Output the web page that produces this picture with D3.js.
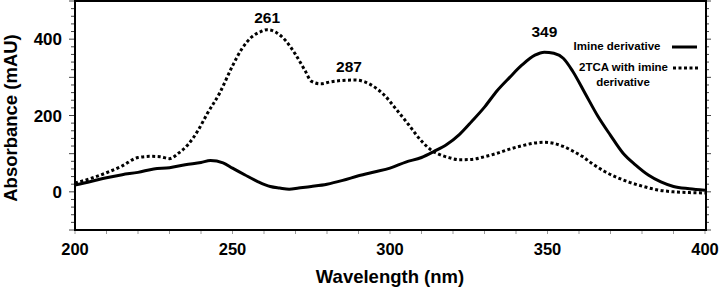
<!DOCTYPE html>
<html lang="en">
<head>
<meta charset="utf-8">
<script src="https://d3js.org/d3.v7.min.js"></script>
<style>
  body { margin: 0; background: #fff; }
  text { font-family: "Liberation Sans", Arial, sans-serif; font-weight: bold; fill: #000; }
</style>
</head>
<body>
<script>
// Imine derivative (solid)
const imineWl = [200,205,210,215,220,225,230,235,240,243,247,250,254,258,262,265,268,271,275,280,285,290,295,300,305,310,314,318,322,326,330,334,338,342,346,349,352,355,358,362,366,370,374,378,382,386,390,395,400];
const imineAbs = [18,27,37,45,51,60,63,71,77,82,76,62,44,27,14,10,7,10,14,20,30,42,52,62,78,90,106,124,150,185,222,265,300,333,358,366,363,350,316,257,198,148,101,70,44,26,14,8,4];

// 2TCA with imine derivative (dotted)
const tcaWl = [200,205,210,215,220,224,227,230,233,236,239,242,246,250,253,256,259,261,264,267,270,273,275,278,281,285,289,292,295,298,302,306,310,313,316,319,322,326,330,334,338,342,346,349,352,355,358,361,364,368,372,376,380,385,390,395,400];
const tcaAbs = [23,35,50,68,90,93,92,87,102,125,160,205,260,330,375,405,420,425,417,395,360,318,290,283,288,292,293,288,275,255,216,175,133,110,97,89,84,85,92,101,112,121,128,130,127,119,107,93,75,54,38,25,15,5,0,-2,-3];

const xTicks = [200, 250, 300, 350, 400];
const yTicks = [0, 200, 400];
const peakLabels = [{wl: 261, v: 425, dy: -7}, {wl: 287, v: 293, dy: -8}, {wl: 349, v: 366, dy: -15}];

const W = 719, H = 291;
const svg = d3.select("body").append("svg").attr("width", W).attr("height", H);

const x = d3.scaleLinear().domain([200, 400]).range([75, 705]);
const y = d3.scaleLinear().domain([-100, 500]).range([230, 1]);

// minor ticks
svg.append("g").selectAll("line").data(d3.range(-100, 501, 20)).enter().append("line")
  .attr("x1", d => 75 - (d % 100 === 0 ? 6 : 4)).attr("x2", 75)
  .attr("y1", d => y(d)).attr("y2", d => y(d))
  .attr("stroke", "#444").attr("stroke-width", 1);
svg.append("g").selectAll("line").data(d3.range(-100, 501, 20)).enter().append("line")
  .attr("x1", 705).attr("x2", d => 705 + (d % 100 === 0 ? 6 : 4))
  .attr("y1", d => y(d)).attr("y2", d => y(d))
  .attr("stroke", "#444").attr("stroke-width", 1);
svg.append("g").selectAll("line").data(d3.range(200, 401, 10)).enter().append("line")
  .attr("x1", d => x(d)).attr("x2", d => x(d))
  .attr("y1", 230).attr("y2", 234)
  .attr("stroke", "#999").attr("stroke-width", 1);

// frame
svg.append("line").attr("x1", 75).attr("x2", 75).attr("y1", 0).attr("y2", 231).attr("stroke", "#000").attr("stroke-width", 2);
svg.append("line").attr("x1", 706).attr("x2", 706).attr("y1", 0).attr("y2", 231).attr("stroke", "#000").attr("stroke-width", 2);
svg.append("line").attr("x1", 74).attr("x2", 707).attr("y1", 230).attr("y2", 230).attr("stroke", "#000").attr("stroke-width", 2);
svg.append("line").attr("x1", 74).attr("x2", 707).attr("y1", 1).attr("y2", 1).attr("stroke", "#000").attr("stroke-width", 2);

// tick labels
svg.append("g").selectAll("text").data(xTicks).enter().append("text")
  .attr("x", d => x(d)).attr("y", 255).attr("text-anchor", "middle")
  .style("font-size", "16.5px").text(d => d);
svg.append("g").selectAll("text").data(yTicks).enter().append("text")
  .attr("x", 62).attr("y", d => y(d) + 6).attr("text-anchor", "end")
  .style("font-size", "17px").text(d => d);

// axis titles
svg.append("text").attr("x", 390).attr("y", 283).attr("text-anchor", "middle")
  .style("font-size", "18.5px").text("Wavelength (nm)");
svg.append("text").attr("transform", "translate(17,118) rotate(-90)").attr("text-anchor", "middle")
  .style("font-size", "18.5px").text("Absorbance (mAU)");

// lines
const line = d3.line().x(d => x(d[0])).y(d => y(d[1])).curve(d3.curveMonotoneX);
svg.append("path").datum(d3.zip(tcaWl, tcaAbs))
  .attr("fill", "none").attr("stroke", "#000").attr("stroke-width", 3)
  .attr("stroke-dasharray", "3,2.5").attr("d", line);
svg.append("path").datum(d3.zip(imineWl, imineAbs))
  .attr("fill", "none").attr("stroke", "#000").attr("stroke-width", 3).attr("d", line);

// peak labels
svg.append("g").selectAll("text").data(peakLabels).enter().append("text")
  .attr("x", d => x(d.wl)).attr("y", d => y(d.v) + d.dy).attr("text-anchor", "middle")
  .style("font-size", "15.5px").text(d => d.wl);

// legend
svg.append("text").attr("x", 617).attr("y", 50).attr("text-anchor", "middle").style("font-size", "11.5px").text("Imine derivative");
svg.append("line").attr("x1", 672).attr("x2", 697).attr("y1", 47).attr("y2", 47).attr("stroke", "#000").attr("stroke-width", 3);
svg.append("text").attr("x", 623.5).attr("y", 71).attr("text-anchor", "middle").style("font-size", "11.5px").text("2TCA with imine");
svg.append("text").attr("x", 623).attr("y", 86).attr("text-anchor", "middle").style("font-size", "11.5px").text("derivative");
svg.append("line").attr("x1", 673).attr("x2", 700).attr("y1", 68).attr("y2", 68).attr("stroke", "#000").attr("stroke-width", 3).attr("stroke-dasharray", "3,2.5");
</script>
</body>
</html>
